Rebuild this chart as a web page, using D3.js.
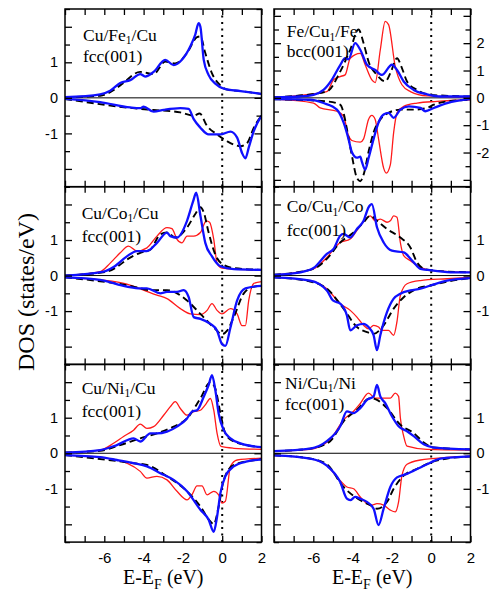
<!DOCTYPE html>
<html><head><meta charset="utf-8">
<script src="https://cdn.jsdelivr.net/npm/d3@7"></script>
<style>body{margin:0;background:#fff} svg{display:block}</style>
</head><body>
<svg id="c" width="496" height="595"></svg>
<script>
// ---------- DATA: [E - E_F (eV), DOS (states/eV)] ----------
// Panel 1: Cu/Fe1/Cu fcc(001)
const cuFe_blueUp = [[-8,0.02],[-6.21,0.1],[-5.7,0.2],[-5.19,0.42],[-4.68,0.5],[-4.17,0.67],[-3.92,0.6],[-3.49,0.73],[-2.9,1.07],[-2.47,0.92],[-2.05,1.07],[-1.62,1.45],[-1.37,1.78],[-1.2,2.1],[-1.11,2.0],[-0.94,1.07],[-0.69,0.64],[-0.35,0.4],[0.08,0.26],[0.93,0.19],[2,0.11]];
const cuFe_dashUp = [[-8,0.02],[-6.21,0.06],[-5.7,0.16],[-5.19,0.35],[-4.17,0.73],[-3.49,0.67],[-2.9,1.02],[-2.39,0.97],[-1.79,1.26],[-1.28,1.71],[-1.11,1.73],[-0.86,1.26],[-0.52,0.69],[-0.09,0.35],[0.25,0.23],[0.93,0.19],[2,0.11]];
const cuFe_blueDn = [[-8,-0.03],[-6.21,-0.12],[-4.68,-0.27],[-4.17,-0.29],[-4.0,-0.25],[-3.49,-0.39],[-2.98,-0.34],[-2.13,-0.29],[-1.71,-0.31],[-1.45,-0.6],[-1.11,-0.84],[-0.69,-1.03],[-0.09,-1.03],[0.42,-0.95],[0.76,-1.12],[1.01,-1.55],[1.18,-1.7],[1.35,-1.4],[1.61,-0.93],[2,-0.5]];
const cuFe_dashDn = [[-8,-0.03],[-4.17,-0.31],[-3.49,-0.34],[-2.13,-0.41],[-1.45,-0.5],[-1.15,-0.44],[-0.77,-0.79],[-0.26,-1.03],[0.25,-1.22],[0.93,-1.36],[1.27,-1.27],[1.61,-0.84],[2,-0.5]];

// Panel 2: Fe/Cu1/Fe bcc(001)
const feCu_blueUp = [[-8,0.02],[-6.67,0.05],[-5.99,0.11],[-5.48,0.29],[-5.06,0.66],[-4.63,1.2],[-4.38,1.45],[-4.21,1.41],[-3.87,2.0],[-3.61,1.76],[-3.27,1.21],[-2.85,1.02],[-2.51,0.84],[-2.0,1.21],[-1.74,1.02],[-1.4,0.6],[-0.89,0.29],[-0.21,0.13],[0.47,0.05],[2,0.05]];
const feCu_dashUp = [[-8,0.02],[-5.31,0.23],[-4.63,0.96],[-4.12,1.76],[-3.7,2.5],[-3.44,2.0],[-3.19,1.33],[-2.76,0.84],[-2.34,0.6],[-2.08,0.9],[-1.74,1.45],[-1.49,1.09],[-1.23,0.6],[-0.72,0.29],[-0.04,0.11],[2,0.05]];
const feCu_redUp = [[-8,0.02],[-5.31,0.23],[-4.97,0.66],[-4.63,0.78],[-4.38,0.84],[-4.12,1.45],[-3.61,1.63],[-3.36,1.21],[-3.02,0.66],[-2.85,0.56],[-2.59,1.76],[-2.34,2.8],[-2.17,2.68],[-1.83,1.15],[-1.49,0.48],[-1.06,0.23],[-0.21,0.07],[2,0.03]];
const feCu_blueDn = [[-8,-0.05],[-6.16,-0.07],[-5.48,-0.19],[-4.8,-0.43],[-4.46,-0.9],[-4.21,-1.5],[-4.04,-1.98],[-3.78,-2.19],[-3.61,-2.15],[-3.53,-2.33],[-3.36,-2.63],[-3.19,-2.21],[-2.93,-1.5],[-2.68,-0.9],[-2.42,-0.61],[-2.17,-0.55],[-1.91,-0.73],[-1.57,-0.43],[-1.14,-0.31],[-0.55,-0.37],[-0.3,-0.49],[0.13,-0.37],[0.81,-0.19],[2,-0.05]];
const feCu_dashDn = [[-8,-0.05],[-5.31,-0.13],[-4.63,-0.25],[-4.46,-0.55],[-4.29,-1.14],[-4.04,-2.1],[-3.78,-2.93],[-3.61,-3.05],[-3.44,-2.81],[-3.19,-1.98],[-2.93,-1.26],[-2.59,-0.79],[-2.17,-0.55],[-1.57,-0.43],[-0.89,-0.43],[-0.21,-0.37],[0.13,-0.25],[0.81,-0.13],[2,-0.07]];
const feCu_redDn = [[-8,-0.05],[-5.99,-0.19],[-5.65,-0.37],[-4.8,-0.49],[-4.46,-0.67],[-4.21,-1.38],[-4.04,-1.56],[-3.61,-1.62],[-3.44,-1.5],[-3.19,-0.79],[-3.02,-0.64],[-2.85,-0.79],[-2.68,-1.5],[-2.42,-2.57],[-2.29,-2.75],[-2.08,-2.45],[-1.91,-1.26],[-1.74,-0.55],[-1.4,-0.31],[-0.72,-0.19],[0.3,-0.13],[2,-0.07]];

// Panel 3: Cu/Co1/Cu fcc(001)
const cuCo_blueUp = [[-8,0],[-6.04,0.11],[-5.53,0.24],[-4.85,0.54],[-4.34,0.69],[-3.83,0.69],[-3.32,0.92],[-2.81,1.21],[-2.64,1.11],[-2.3,1.07],[-1.79,1.54],[-1.49,2.07],[-1.32,2.33],[-1.11,1.69],[-0.86,0.92],[-0.52,0.54],[-0.09,0.26],[0.59,0.18],[2,0.16]];
const cuCo_dashUp = [[-8,0],[-5.87,0.11],[-5.36,0.24],[-4.85,0.45],[-4.17,0.64],[-3.66,0.73],[-3.15,1.16],[-2.81,1.21],[-2.39,1.07],[-1.79,1.35],[-1.37,1.73],[-1.11,1.92],[-0.94,1.78],[-0.69,1.21],[-0.35,0.59],[-0.01,0.33],[0.59,0.21],[2,0.16]];
const cuCo_redUp = [[-8,0],[-6.21,0.11],[-5.7,0.35],[-5.19,0.64],[-4.77,0.83],[-4.34,0.69],[-3.83,0.78],[-3.32,1.11],[-2.81,1.35],[-2.56,1.32],[-2.3,1.02],[-2.05,0.92],[-1.79,1.11],[-1.45,1.11],[-1.11,1.21],[-0.81,1.54],[-0.64,1.5],[-0.43,1.02],[-0.26,0.35],[-0.01,0.21],[0.59,0.18],[2,0.16]];
const cuCo_blueDn = [[-8,-0.05],[-6.21,-0.12],[-4.85,-0.31],[-4.17,-0.36],[-3.83,-0.36],[-3.15,-0.5],[-2.81,-0.46],[-2.3,-0.46],[-1.96,-0.41],[-1.71,-0.6],[-1.45,-1.17],[-1.11,-1.22],[-0.6,-1.36],[-0.26,-1.55],[-0.01,-1.93],[0.16,-1.98],[0.42,-1.46],[0.76,-0.7],[1.18,-0.36],[2,-0.29]];
const cuCo_dashDn = [[-8,-0.05],[-4.51,-0.31],[-3.66,-0.41],[-2.81,-0.41],[-1.79,-0.7],[-1.11,-1.08],[-0.43,-1.46],[-0.01,-1.65],[0.25,-1.55],[0.59,-1.17],[1.1,-0.5],[1.61,-0.31],[2,-0.29]];
const cuCo_redDn = [[-8,-0.05],[-6.21,-0.12],[-4.85,-0.24],[-4.0,-0.41],[-3.32,-0.55],[-2.81,-0.65],[-2.13,-0.93],[-1.62,-1.08],[-1.11,-1.1],[-0.77,-0.98],[-0.52,-0.79],[-0.26,-0.98],[-0.01,-1.08],[0.42,-0.93],[0.76,-1.08],[1.01,-1.41],[1.18,-1.41],[1.35,-0.7],[1.61,-0.22],[2,-0.17]];

// Panel 4: Co/Cu1/Co fcc(001)
const coCu_blueUp = [[-8,0.02],[-6.67,0.09],[-5.99,0.21],[-5.31,0.61],[-4.97,0.75],[-4.63,1.12],[-4.46,1.17],[-4.12,1.07],[-3.78,1.31],[-3.44,1.54],[-3.19,1.92],[-3.02,2.01],[-2.76,1.36],[-2.42,0.93],[-2.0,0.7],[-1.4,0.65],[-0.89,0.37],[-0.55,0.19],[0.13,0.14],[1.15,0.09],[2,0.09]];
const coCu_dashUp = [[-8,0.02],[-5.99,0.19],[-5.31,0.47],[-4.63,0.93],[-3.95,1.21],[-3.44,1.5],[-3.1,1.68],[-2.76,1.54],[-2.25,1.31],[-1.57,1.07],[-1.06,0.79],[-0.72,0.37],[-0.38,0.19],[0.13,0.14],[2,0.09]];
const coCu_redUp = [[-8,0.02],[-5.99,0.19],[-5.31,0.51],[-4.63,0.93],[-4.12,1.03],[-3.61,1.4],[-3.1,1.68],[-2.85,1.54],[-2.59,1.59],[-2.25,1.5],[-2.08,1.54],[-1.91,1.68],[-1.74,1.64],[-1.57,0.93],[-1.4,0.56],[-1.06,0.42],[-0.55,0.23],[0.13,0.14],[2,0.09]];
const coCu_blueDn = [[-8,-0.05],[-6.16,-0.14],[-5.31,-0.42],[-5.0,-0.7],[-4.63,-0.79],[-4.29,-1.12],[-4.12,-1.54],[-3.78,-1.4],[-3.44,-1.36],[-3.19,-1.45],[-2.93,-1.68],[-2.76,-2.1],[-2.59,-1.68],[-2.25,-1.03],[-1.91,-0.65],[-1.57,-0.51],[-1.06,-0.42],[-0.55,-0.37],[-0.04,-0.28],[0.81,-0.14],[2,-0.07]];
const coCu_dashDn = [[-8,-0.05],[-6.16,-0.17],[-5.31,-0.37],[-4.46,-0.93],[-3.78,-1.45],[-3.27,-1.59],[-2.93,-1.64],[-2.42,-1.4],[-1.91,-0.93],[-1.4,-0.61],[-0.72,-0.37],[-0.04,-0.28],[0.81,-0.17],[2,-0.07]];
const coCu_redDn = [[-8,-0.05],[-6.16,-0.14],[-5.31,-0.37],[-4.63,-0.79],[-4.12,-0.98],[-3.78,-1.17],[-3.44,-1.4],[-3.19,-1.5],[-2.93,-1.4],[-2.68,-1.45],[-2.51,-1.54],[-2.17,-1.54],[-1.91,-1.68],[-1.74,-1.29],[-1.57,-0.56],[-1.23,-0.23],[-0.55,-0.14],[0.81,-0.09],[2,-0.05]];

// Panel 5: Cu/Ni1/Cu fcc(001)
const cuNi_blueUp = [[-8,0.02],[-6.21,0.09],[-5.36,0.23],[-4.51,0.42],[-4.17,0.33],[-3.66,0.56],[-3.32,0.56],[-2.81,0.61],[-2.3,0.75],[-1.79,0.98],[-1.54,1.17],[-1.28,1.21],[-0.94,1.59],[-0.69,1.92],[-0.52,2.2],[-0.35,1.78],[-0.18,1.12],[0.08,0.65],[0.42,0.42],[0.93,0.28],[2,0.17]];
const cuNi_dashUp = [[-8,0.02],[-6.21,0.07],[-5.19,0.23],[-4.17,0.42],[-3.32,0.56],[-2.47,0.75],[-1.79,0.98],[-1.11,1.54],[-0.6,2.0],[-0.35,1.82],[-0.09,1.12],[0.16,0.56],[0.59,0.33],[2,0.17]];
const cuNi_redUp = [[-8,0.02],[-6.21,0.09],[-5.53,0.28],[-5.02,0.47],[-4.51,0.65],[-4.17,0.82],[-3.83,0.7],[-3.49,0.75],[-2.98,1.07],[-2.64,1.31],[-2.39,1.45],[-2.13,1.26],[-1.79,1.07],[-1.45,1.17],[-1.11,1.21],[-0.86,1.36],[-0.6,1.54],[-0.43,1.21],[-0.26,0.56],[-0.06,0.19],[0.59,0.14],[2,0.11]];
const cuNi_blueDn = [[-8,-0.05],[-6.21,-0.11],[-5.36,-0.19],[-4.51,-0.28],[-3.83,-0.37],[-3.15,-0.56],[-2.47,-0.75],[-1.79,-1.07],[-1.11,-1.59],[-0.69,-1.87],[-0.43,-2.21],[-0.26,-1.78],[-0.09,-1.12],[0.16,-0.65],[0.59,-0.37],[1.27,-0.23],[2,-0.17]];
const cuNi_dashDn = [[-8,-0.05],[-4.51,-0.28],[-3.83,-0.33],[-2.81,-0.65],[-1.79,-1.07],[-1.11,-1.5],[-0.6,-1.92],[-0.43,-2.0],[-0.18,-1.5],[0.08,-0.75],[0.59,-0.33],[2,-0.17]];
const cuNi_redDn = [[-8,-0.05],[-6.21,-0.11],[-4.85,-0.28],[-4.17,-0.51],[-3.83,-0.7],[-3.32,-0.65],[-2.81,-0.75],[-2.3,-1.07],[-1.79,-1.31],[-1.54,-1.17],[-1.28,-0.92],[-1.03,-0.92],[-0.77,-1.17],[-0.43,-1.07],[-0.18,-1.17],[-0.01,-1.4],[0.16,-1.35],[0.42,-0.37],[0.76,-0.19],[2,-0.14]];

// Panel 6: Ni/Cu1/Ni fcc(001)
const niCu_blueUp = [[-8,0.06],[-6.16,0.13],[-5.31,0.34],[-4.63,0.76],[-4.29,1.18],[-3.95,1.13],[-3.61,1.27],[-3.27,1.5],[-2.93,1.6],[-2.76,1.92],[-2.59,1.6],[-2.34,1.41],[-2.0,1.04],[-1.66,0.76],[-1.23,0.62],[-0.89,0.48],[-0.38,0.25],[0.13,0.16],[2,0.11]];
const niCu_dashUp = [[-8,0.06],[-6.16,0.13],[-5.14,0.34],[-4.46,0.9],[-3.78,1.22],[-3.1,1.55],[-2.76,1.5],[-2.25,1.27],[-1.57,0.8],[-0.89,0.57],[-0.38,0.3],[0.13,0.16],[2,0.11]];
const niCu_redUp = [[-8,0.06],[-6.16,0.11],[-5.14,0.39],[-4.46,0.94],[-3.95,1.18],[-3.61,1.4],[-3.19,1.69],[-2.85,1.55],[-2.42,1.55],[-2.08,1.55],[-1.83,1.69],[-1.66,1.6],[-1.57,1.0],[-1.4,0.48],[-1.23,0.2],[-0.21,0.11],[2,0.09]];
const niCu_blueDn = [[-8,-0.06],[-6.16,-0.15],[-5.31,-0.35],[-4.63,-0.81],[-4.29,-1.28],[-4.12,-1.32],[-3.87,-1.23],[-3.61,-1.28],[-3.27,-1.37],[-2.93,-1.56],[-2.68,-2.02],[-2.42,-1.56],[-2.08,-0.95],[-1.74,-0.68],[-1.23,-0.58],[-0.89,-0.49],[-0.21,-0.31],[0.47,-0.15],[2,-0.09]];
const niCu_dashDn = [[-8,-0.06],[-6.16,-0.15],[-5.31,-0.31],[-4.46,-0.95],[-3.61,-1.32],[-3.1,-1.46],[-2.76,-1.56],[-2.25,-1.37],[-1.91,-1.0],[-1.4,-0.63],[-0.72,-0.44],[-0.04,-0.26],[0.81,-0.15],[2,-0.09]];
const niCu_redDn = [[-8,-0.06],[-6.16,-0.15],[-5.31,-0.35],[-4.63,-0.77],[-4.29,-0.95],[-3.95,-1.0],[-3.61,-1.23],[-3.27,-1.42],[-3.02,-1.46],[-2.76,-1.42],[-2.42,-1.46],[-2.08,-1.6],[-1.83,-1.65],[-1.66,-1.37],[-1.49,-0.63],[-1.23,-0.31],[-0.55,-0.19],[0.81,-0.12],[2,-0.09]];

// ---------- AXES VALUES ----------
const energyDomain = [-8, 2];
const xTickValues = [-8, -7, -6, -5, -4, -3, -2, -1, 0, 1, 2];
const xTickLabels = [-6, -4, -2, 0, 2];
const yDomainStd = [-2.5, 2.5];
const yDomainBcc = [-3.25, 3.25];
const yTicksStd = [-2.5, -2, -1.5, -1, -0.5, 0, 0.5, 1, 1.5, 2, 2.5];
const yTicksBcc = [-3, -2.5, -2, -1.5, -1, -0.5, 0, 0.5, 1, 1.5, 2, 2.5, 3];
const yLabelsStd = [-1, 0, 1];
const yLabelsBcc = [-2, -1, 0, 1, 2];

const panelTitles = [
  [["Cu/Fe", "1", "/Cu"], "fcc(001)"],
  [["Fe/Cu", "1", "/Fe"], "bcc(001)"],
  [["Cu/Co", "1", "/Cu"], "fcc(001)"],
  [["Co/Cu", "1", "/Co"], "fcc(001)"],
  [["Cu/Ni", "1", "/Cu"], "fcc(001)"],
  [["Ni/Cu", "1", "/Ni"], "fcc(001)"]
];
const xAxisTitle = ["E-E", "F", " (eV)"];
const yAxisTitle = "DOS (states/eV)";

// ---------- LAYOUT ----------
const colX = [65, 274], panelW = 196.5;
const rowY = [9, 186.7, 364.4], panelH = 177.7;
const titlePos = [[18, 31.7, 53], [12.7, 28, 48], [16.7, 32, 55.5], [12.7, 25.7, 49], [16.7, 29.3, 52.7], [11, 24.5, 45.5]];

const panels = [
  {col:0,row:0,yDomain:yDomainStd,yTicks:yTicksStd,yLabels:yLabelsStd,curves:{red:[],dash:[cuFe_dashUp,cuFe_dashDn],blue:[cuFe_blueUp,cuFe_blueDn]}},
  {col:1,row:0,yDomain:yDomainBcc,yTicks:yTicksBcc,yLabels:yLabelsBcc,curves:{red:[feCu_redUp,feCu_redDn],dash:[feCu_dashUp,feCu_dashDn],blue:[feCu_blueUp,feCu_blueDn]}},
  {col:0,row:1,yDomain:yDomainStd,yTicks:yTicksStd,yLabels:yLabelsStd,curves:{red:[cuCo_redUp,cuCo_redDn],dash:[cuCo_dashUp,cuCo_dashDn],blue:[cuCo_blueUp,cuCo_blueDn]}},
  {col:1,row:1,yDomain:yDomainStd,yTicks:yTicksStd,yLabels:yLabelsStd,curves:{red:[coCu_redUp,coCu_redDn],dash:[coCu_dashUp,coCu_dashDn],blue:[coCu_blueUp,coCu_blueDn]}},
  {col:0,row:2,yDomain:yDomainStd,yTicks:yTicksStd,yLabels:yLabelsStd,curves:{red:[cuNi_redUp,cuNi_redDn],dash:[cuNi_dashUp,cuNi_dashDn],blue:[cuNi_blueUp,cuNi_blueDn]}},
  {col:1,row:2,yDomain:yDomainStd,yTicks:yTicksStd,yLabels:yLabelsStd,curves:{red:[niCu_redUp,niCu_redDn],dash:[niCu_dashUp,niCu_dashDn],blue:[niCu_blueUp,niCu_blueDn]}}
];

const SERIF = "'Liberation Serif','DejaVu Serif',serif";
const SANS = "'Liberation Sans',Arial,'DejaVu Sans',sans-serif";
const styles = {
  red: {stroke:"#ff1a1a", width:1.3, dash:null},
  dash:{stroke:"#000", width:1.9, dash:"7,4"},
  blue:{stroke:"#1010ff", width:2.3, dash:null}
};

const svg = d3.select("#c");
svg.append("rect").attr("width",496).attr("height",595).attr("fill","#fff");

panels.forEach((p, i) => {
  const x0 = colX[p.col], y0 = rowY[p.row];
  const x = d3.scaleLinear().domain(energyDomain).range([x0, x0 + panelW]);
  const y = d3.scaleLinear().domain(p.yDomain).range([y0 + panelH, y0]);
  const g = svg.append("g");
  const clipId = "clip" + i;
  svg.append("clipPath").attr("id", clipId).append("rect")
    .attr("x", x0).attr("y", y0).attr("width", panelW).attr("height", panelH);

  // zero line
  g.append("line").attr("x1", x0).attr("x2", x0 + panelW).attr("y1", y(0)).attr("y2", y(0))
    .attr("stroke", "#000").attr("stroke-width", 1);
  // Fermi level dotted line
  g.append("line").attr("x1", x(0)).attr("x2", x(0)).attr("y1", y0).attr("y2", y0 + panelH)
    .attr("stroke", "#000").attr("stroke-width", 2).attr("stroke-dasharray", "2,4.5");

  const line = d3.line().x(d => x(d[0])).y(d => y(d[1])).curve(d3.curveMonotoneX);
  const cg = g.append("g").attr("clip-path", `url(#${clipId})`);
  ["red", "dash", "blue"].forEach(k => {
    p.curves[k].forEach(data => {
      cg.append("path").datum(data).attr("d", line).attr("fill", "none")
        .attr("stroke", styles[k].stroke).attr("stroke-width", styles[k].width)
        .attr("stroke-dasharray", styles[k].dash).attr("stroke-linejoin", "round");
    });
  });

  // inward ticks
  const tickStyle = sel => { sel.select(".domain").remove(); sel.selectAll("line").attr("stroke","#000").attr("stroke-width",1.3); };
  g.append("g").attr("transform", `translate(0,${y0 + panelH})`)
    .call(d3.axisTop(x).tickValues(xTickValues).tickSize(6).tickFormat("")).call(tickStyle);
  g.append("g").attr("transform", `translate(0,${y0})`)
    .call(d3.axisBottom(x).tickValues(xTickValues).tickSize(6).tickFormat("")).call(tickStyle);
  const yMaj = p.yTicks.filter(v => Number.isInteger(v));
  const yMin = p.yTicks.filter(v => !Number.isInteger(v));
  [[yMaj, 7], [yMin, 5]].forEach(([vals, sz]) => {
    g.append("g").attr("transform", `translate(${x0},0)`)
      .call(d3.axisRight(y).tickValues(vals).tickSize(sz).tickFormat("")).call(tickStyle);
    g.append("g").attr("transform", `translate(${x0 + panelW},0)`)
      .call(d3.axisLeft(y).tickValues(vals).tickSize(sz).tickFormat("")).call(tickStyle);
  });

  // y tick labels
  const lab = p.col === 0
    ? d3.axisLeft(y).tickValues(p.yLabels).tickSize(0).tickPadding(7).tickFormat(d => String(d))
    : d3.axisRight(y).tickValues(p.yLabels).tickSize(0).tickPadding(6).tickFormat(d => String(d));
  const lg = g.append("g").attr("transform", `translate(${p.col === 0 ? x0 : x0 + panelW},0)`).call(lab);
  lg.select(".domain").remove();
  lg.selectAll("text").attr("font-family", SANS).attr("font-size", 14.5).attr("fill", "#000");

  // x tick labels on bottom row
  if (p.row === 2) {
    const xl = g.append("g").attr("transform", `translate(0,${y0 + panelH})`)
      .call(d3.axisBottom(x).tickValues(xTickLabels).tickSize(0).tickPadding(10).tickFormat(d => String(d)));
    xl.select(".domain").remove();
    xl.selectAll("text").attr("font-family", SANS).attr("font-size", 15).attr("fill", "#000");
    const t = g.append("text").attr("x", x0 + panelW / 2).attr("y", 584)
      .attr("text-anchor", "middle").attr("font-family", SERIF).attr("font-size", 20);
    t.append("tspan").text(xAxisTitle[0]);
    t.append("tspan").attr("font-size", 14).attr("dy", 5).text(xAxisTitle[1]);
    t.append("tspan").attr("dy", -5).text(xAxisTitle[2]);
  }

  // frame
  g.append("rect").attr("x", x0).attr("y", y0).attr("width", panelW).attr("height", panelH)
    .attr("fill", "none").attr("stroke", "#000").attr("stroke-width", 1.5);

  // title
  const tp = titlePos[i], tt = panelTitles[i];
  const t1 = g.append("text").attr("x", x0 + tp[0]).attr("y", y0 + tp[1])
    .attr("font-family", SERIF).attr("font-size", 17.5).attr("fill", "#000");
  t1.append("tspan").text(tt[0][0]);
  t1.append("tspan").attr("font-size", 11.5).attr("dy", 3.5).text(tt[0][1]);
  t1.append("tspan").attr("dy", -3.5).text(tt[0][2]);
  g.append("text").attr("x", x0 + tp[0]).attr("y", y0 + tp[2])
    .attr("font-family", SERIF).attr("font-size", 17.5).attr("fill", "#000").text(tt[1]);
});

// y axis title
svg.append("text").attr("transform", "translate(33.5,292) rotate(-90)")
  .attr("text-anchor", "middle").attr("font-family", SERIF).attr("font-size", 24).attr("fill", "#000")
  .text(yAxisTitle);
</script>
</body></html>
